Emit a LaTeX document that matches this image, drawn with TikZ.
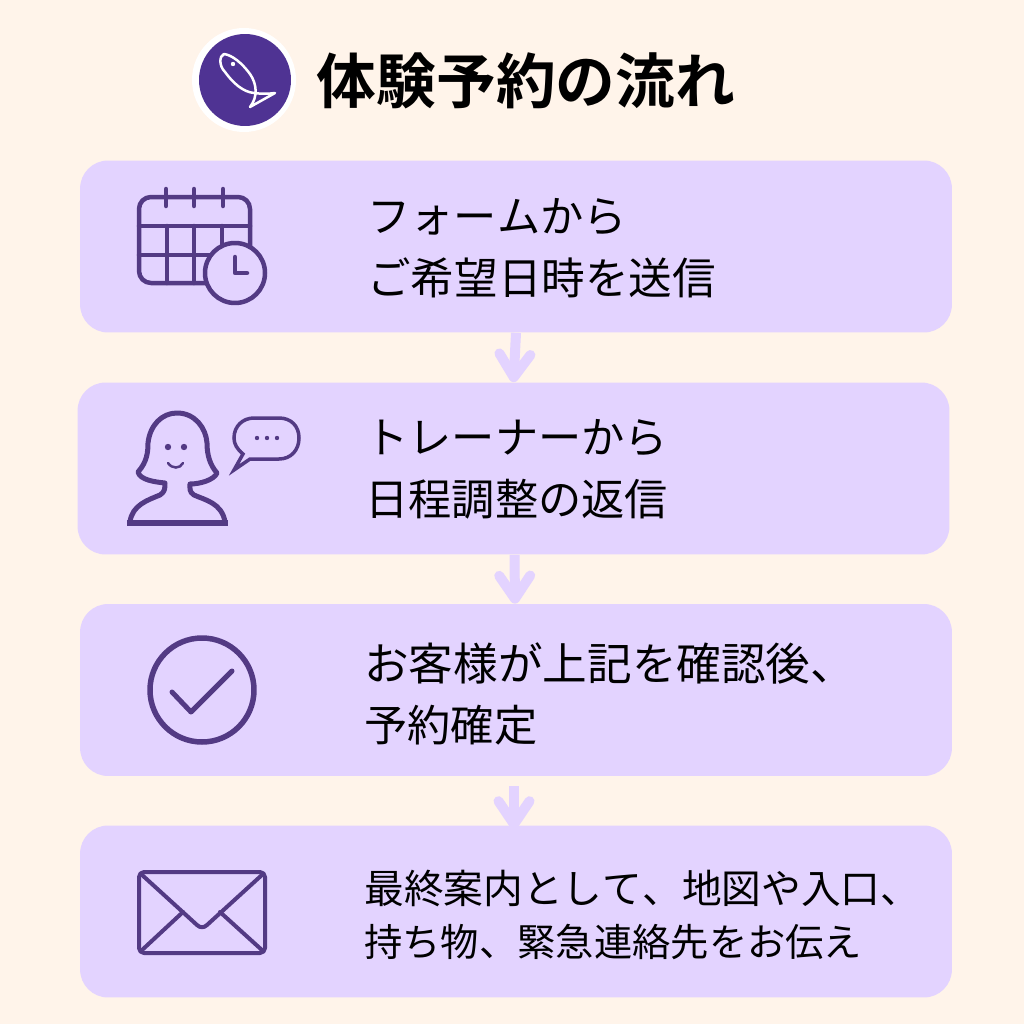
\documentclass[tikz,border=0pt]{standalone}
\usepackage{fontspec}
\setmainfont{Noto Sans CJK JP}[Kerning=Off, BoldFont={Noto Sans CJK JP Bold}]
\usetikzlibrary{arrows.meta, positioning}
\definecolor{CBack}{HTML}{FFF4EA}
\definecolor{CBox}{HTML}{E3D3FF}
\definecolor{CIcon}{HTML}{533A84}
\definecolor{CBadge}{HTML}{4F3393}
\newcommand{\linesize}[1]{\fontsize{#1}{35.2}\selectfont}
\tikzset{
    stepbox/.style={fill=CBox, rounded corners=0.56cm, minimum width=17.44cm, minimum height=3.44cm, inner sep=0pt},
    steptext/.style={anchor=west, align=left, inner sep=0pt, font=\fontsize{24.6}{35.2}\selectfont},
    flowarrow/.style={draw=CBox, line width=0.2cm, -{Straight Barb[round, length=0.46cm, width=0.62cm]}},
    iconline/.style={draw=CIcon, line width=0.09cm, line cap=round, line join=round}
}
\begin{document}
\begin{tikzpicture}[x=0.02cm, y=-0.02cm]
    \useasboundingbox (0,0) rectangle (1024,1024);
    \fill[CBack] (0,0) rectangle (1024,1024);

    % Title with fish badge
    \node[circle, fill=white, minimum size=2.08cm, inner sep=0pt] (badgeout) at (244,80) {};
    \node[circle, fill=CBadge, minimum size=1.84cm, inner sep=0pt] (badge) at (245,80) {};
    \draw[white, line width=0.05cm, line join=round]
        (250,107) .. controls (258,97) and (257,84) .. (250,74)
        .. controls (242,63) and (232,55) .. (224,54)
        .. controls (219,56) and (219,66) .. (225,72)
        .. controls (233,83) and (243,92) .. (254,93)
        .. controls (262,94) and (268,94) .. (275,93) -- cycle;
    \fill[white] (233,64) circle (2.2);
    \node[inner sep=0pt, font=\fontsize{34}{40}\selectfont\bfseries] (title) at (526,81) {体験予約の流れ};

    % Steps
    \node[stepbox] (box1) at (516,246.5) {};
    \node[stepbox] (box2) at (513.5,468.5) {};
    \node[stepbox] (box3) at (516,690) {};
    \node[stepbox] (box4) at (516,911.5) {};

    \node[steptext] (text1) at (367,248) {フォームから\\\linesize{24.8}ご希望日時を送信};
    \node[steptext] (text2) at (365,469) {トレーナーから\\日程調整の返信};
    \node[steptext] (text3) at (364,694) {\linesize{25.4}お客様が上記を確認後、\\\linesize{24.6}予約確定};
    \node[steptext, font=\fontsize{22}{30.2}\selectfont] (text4) at (364,915) {\fontsize{22.6}{30.2}\selectfont 最終案内として、地図や入口、\\\fontsize{21.8}{30.2}\selectfont 持ち物、緊急連絡先をお伝え};

    % Arrows between the steps
    \draw[flowarrow] (box1.south) -- (box2.north);
    \draw[flowarrow] ([xshift=0.02cm]box2.south) -- ([xshift=-0.02cm]box3.north);
    \draw[flowarrow] ([xshift=-0.04cm, yshift=-0.2cm]box3.south) -- ([xshift=-0.04cm, yshift=-0.08cm]box4.north);

    % Calendar with clock
    \draw[iconline, rounded corners=0.24cm] (139,197) rectangle (250,283);
    \foreach \xpos in {166,194,223} {
        \draw[iconline] (\xpos,189) -- (\xpos,206);
    }
    \draw[iconline] (139,226) -- (250,226);
    \draw[iconline] (139,255) -- (250,255);
    \foreach \xpos in {167,194,222} {
        \draw[iconline] (\xpos,226) -- (\xpos,283);
    }
    \draw[iconline, fill=CBox] (235,273) circle (30);
    \draw[iconline] (235,257) -- (235,273) -- (247,273);

    % Trainer with speech bubble
    \draw[iconline, line cap=butt, line width=0.1cm]
        (130,522) .. controls (132,505) and (148,500) .. (160,495)
        .. controls (165,492) and (165,488) .. (165,483)
        .. controls (155,482) and (140,480) .. (138,472)
        .. controls (147,462) and (148,452) .. (148,443)
        .. controls (150,425) and (162,413) .. (177,413)
        .. controls (195,413) and (206,428) .. (207,443)
        .. controls (207,455) and (210,465) .. (217,473)
        .. controls (214,480) and (200,484) .. (190,484)
        .. controls (190,488) and (189,492) .. (194,495)
        .. controls (205,500) and (222,503) .. (225,522);
    \draw[draw=CIcon, line width=0.13cm] (127,523) -- (228,523);
    \fill[CIcon] (168,447) circle (3.2) (184,447) circle (3.2);
    \draw[draw=CIcon, line width=0.05cm, line cap=round] (168,463) .. controls (172,469) and (180,469) .. (183,463);
    \draw[draw=CIcon, line width=0.07cm, line join=miter]
        (243,454) .. controls (237,449) and (234,444) .. (234,438)
        .. controls (234,426) and (243,418) .. (254,418)
        -- (279,418) .. controls (291,418) and (299,426) .. (299,438)
        .. controls (299,450) and (291,459) .. (279,459)
        -- (250,459) -- (234,470) -- cycle;
    \fill[CIcon] (257,438) circle (2.2) (267,438) circle (2.2) (277,438) circle (2.2);

    % Check mark
    \draw[iconline, line width=0.11cm] (202,690) circle (52);
    \draw[iconline, line width=0.1cm] (172,692) -- (191,712) -- (232,671);

    % Envelope
    \draw[iconline, line width=0.08cm, rounded corners=0.1cm] (139,872) rectangle (265,953);
    \draw[iconline, line width=0.08cm] (141,874) -- (197,925) .. controls (200,928) and (204,928) .. (207,925) -- (263,874);
    \draw[iconline, line width=0.08cm] (141,951) -- (183,912);
    \draw[iconline, line width=0.08cm] (263,951) -- (220,912);
\end{tikzpicture}
\end{document}
